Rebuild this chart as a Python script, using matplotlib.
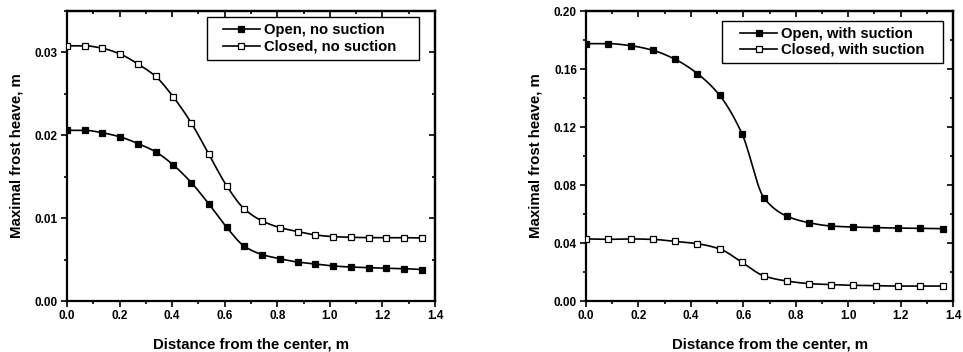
import numpy as np
import matplotlib
matplotlib.use("Agg")
import matplotlib.pyplot as plt
from matplotlib.patches import Rectangle
from matplotlib.ticker import MultipleLocator, FormatStrFormatter

plt.rcParams['font.family'] = ['Liberation Sans', 'DejaVu Sans']
plt.rcParams['font.weight'] = 'bold'

# ---- data: left panel (no suction) ----
x_left = [0.0, 0.0675, 0.135, 0.2025, 0.27, 0.3375, 0.405, 0.4725, 0.54, 0.6075,
          0.675, 0.7425, 0.81, 0.8775, 0.945, 1.0125, 1.08, 1.1475, 1.215, 1.2825, 1.35]
open_no_suction = [0.0206, 0.0206, 0.0203, 0.0198, 0.0190, 0.0180, 0.0164, 0.0143, 0.0117, 0.0089,
                   0.0066, 0.0056, 0.0051, 0.0047, 0.00447, 0.00423, 0.0041, 0.00403, 0.00395, 0.0039, 0.0038]
closed_no_suction = [0.0308, 0.0308, 0.0305, 0.0298, 0.0286, 0.0271, 0.0246, 0.0215, 0.0177, 0.0139,
                     0.0111, 0.00966, 0.00886, 0.00838, 0.00797, 0.00777, 0.00769, 0.00765, 0.00765, 0.00765, 0.0076]

# ---- data: right panel (with suction) ----
x_right = [0.0, 0.085, 0.17, 0.255, 0.34, 0.425, 0.51, 0.595, 0.68, 0.765,
           0.85, 0.935, 1.02, 1.105, 1.19, 1.275, 1.36]
open_with_suction = [0.1775, 0.1775, 0.1761, 0.1729, 0.1667, 0.1568, 0.1418, 0.1154, 0.0708, 0.0586,
                     0.0540, 0.0517, 0.0510, 0.0506, 0.0503, 0.0501, 0.0499]
closed_with_suction = [0.0428, 0.0425, 0.0428, 0.0425, 0.0411, 0.0395, 0.0359, 0.0267, 0.0172, 0.0138,
                       0.0120, 0.0113, 0.0108, 0.0106, 0.0103, 0.0103, 0.0103]

labels_left = ["Open, no suction", "Closed, no suction"]
labels_right = ["Open, with suction", "Closed, with suction"]
xlabel = "Distance from the center, m"
ylabel = "Maximal frost heave, m"


def pchip(x, y, xs):
    x = np.asarray(x, float); y = np.asarray(y, float)
    h = np.diff(x); d = np.diff(y) / h
    n = len(x); m = np.zeros(n)
    for k in range(1, n - 1):
        if d[k - 1] * d[k] > 0:
            w1 = 2 * h[k] + h[k - 1]; w2 = h[k] + 2 * h[k - 1]
            m[k] = (w1 + w2) / (w1 / d[k - 1] + w2 / d[k])
    m[0] = d[0]; m[-1] = d[-1]
    idx = np.clip(np.searchsorted(x, xs) - 1, 0, n - 2)
    t = (xs - x[idx]) / h[idx]
    h00 = 2 * t**3 - 3 * t**2 + 1; h10 = t**3 - 2 * t**2 + t
    h01 = -2 * t**3 + 3 * t**2; h11 = t**3 - t**2
    return h00 * y[idx] + h10 * h[idx] * m[idx] + h01 * y[idx + 1] + h11 * h[idx] * m[idx + 1]


fig = plt.figure(figsize=(9.63, 3.52), dpi=100)
ax1 = fig.add_axes([67 / 963, 1 - 301 / 352, (435 - 67) / 963, (301 - 11) / 352])
ax2 = fig.add_axes([586 / 963, 1 - 301 / 352, (953 - 586) / 963, (301 - 11) / 352])


def draw(ax, x, ys, labels, ylim, ymaj, ymin, yfmt, ms, frame, leg_anchor):
    xs = np.linspace(x[0], x[-1], 400)
    fills = ['black', 'white']
    handles = []
    for y, lab, fc in zip(ys, labels, fills):
        ax.plot(xs, pchip(x, y, xs), color='black', lw=1.2, zorder=2)
        ax.plot(x, y, ls='none', marker='s', ms=ms, mfc=fc, mec='black', mew=0.9, zorder=3)
        h, = ax.plot([], [], color='black', lw=1.2, marker='s', ms=ms, mfc=fc, mec='black', mew=0.9, label=lab)
        handles.append(h)
    ax.set_xlim(0, 1.4)
    ax.set_ylim(*ylim)
    ax.xaxis.set_major_locator(MultipleLocator(0.2))
    ax.xaxis.set_minor_locator(MultipleLocator(0.1))
    ax.yaxis.set_major_locator(MultipleLocator(ymaj))
    ax.yaxis.set_minor_locator(MultipleLocator(ymin))
    ax.xaxis.set_major_formatter(FormatStrFormatter('%.1f'))
    ax.yaxis.set_major_formatter(FormatStrFormatter(yfmt))
    ax.tick_params(which='both', direction='out', labelsize=8.5, width=1.2)
    ax.tick_params(which='major', length=4.5, pad=2)
    ax.tick_params(which='minor', length=2.5)
    for lab in ax.get_xticklabels() + ax.get_yticklabels():
        lab.set_fontweight('bold')
    for s in ax.spines.values():
        s.set_linewidth(1.6)
    # top/right ticks pointing inward
    top = ax.secondary_xaxis('top')
    top.xaxis.set_major_locator(MultipleLocator(0.2))
    top.xaxis.set_minor_locator(MultipleLocator(0.1))
    top.tick_params(which='both', direction='in', labeltop=False, width=1.2)
    top.tick_params(which='major', length=4)
    top.tick_params(which='minor', length=2.5)
    top.spines['top'].set_linewidth(1.6)
    right = ax.secondary_yaxis('right')
    right.yaxis.set_major_locator(MultipleLocator(ymaj))
    right.yaxis.set_minor_locator(MultipleLocator(ymin))
    right.tick_params(which='both', direction='in', labelright=False, width=1.2)
    right.tick_params(which='major', length=4)
    right.tick_params(which='minor', length=2.5)
    right.spines['right'].set_linewidth(1.6)
    ax.set_xlabel(xlabel, fontsize=10.8, fontweight='bold', labelpad=11)
    ax.set_ylabel(ylabel, fontsize=10.8, fontweight='bold', labelpad=8)
    # legend frame (axes fraction) and content
    x0, x1, y0, y1 = frame
    ax.add_patch(Rectangle((x0, y0), x1 - x0, y1 - y0, transform=ax.transAxes,
                           facecolor='white', edgecolor='black', lw=1.0, zorder=4))
    leg = ax.legend(handles=handles, loc='center left', bbox_to_anchor=leg_anchor,
                    frameon=False, handlelength=2.5, handletextpad=0.25, borderpad=0.0,
                    labelspacing=0.15, borderaxespad=0.0,
                    prop={'weight': 'bold', 'size': 10.6})
    leg.set_zorder(5)


draw(ax1, x_left, [open_no_suction, closed_no_suction], labels_left,
     (0, 0.035), 0.01, 0.005, '%.2f', 4.5, (0.380, 0.957, 0.831, 0.979), (0.424, 0.905))
draw(ax2, x_right, [open_with_suction, closed_with_suction], labels_right,
     (0, 0.20), 0.04, 0.02, '%.2f', 3.8, (0.371, 0.973, 0.821, 0.966), (0.420, 0.8935))

fig.savefig('out.png', dpi=100)
